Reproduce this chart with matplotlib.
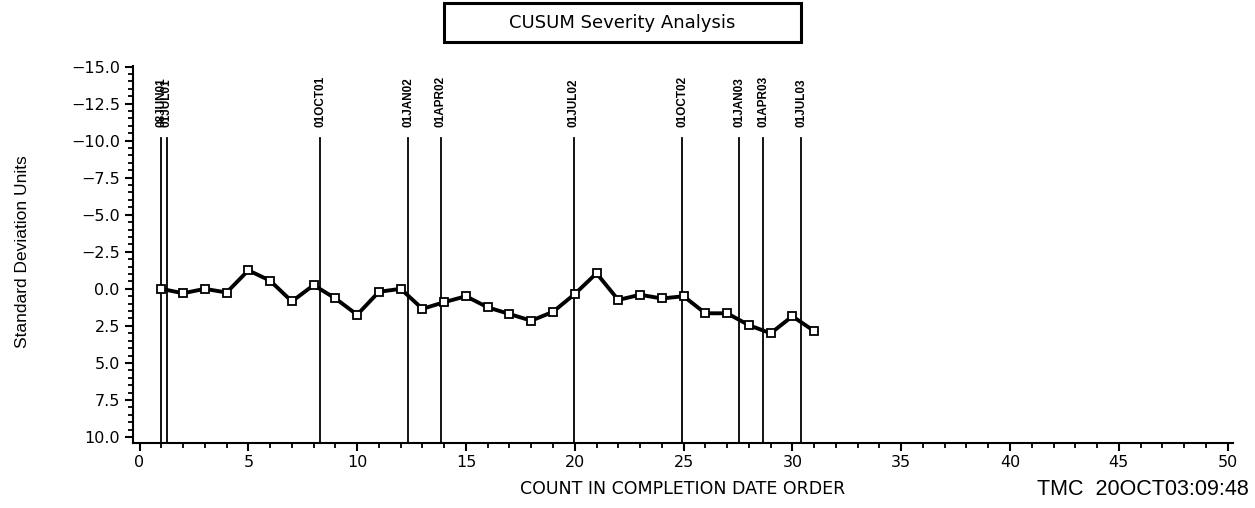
import matplotlib
matplotlib.use("Agg")
import matplotlib.pyplot as plt
from matplotlib.patches import Rectangle
from matplotlib.ticker import MultipleLocator

# CUSUM values by completion order
counts = list(range(1, 32))
cusum = [0.0, 0.3, 0.0, 0.25, -1.25, -0.55, 0.85, -0.25, 0.65, 1.75,
         0.2, 0.0, 1.35, 0.9, 0.5, 1.25, 1.7, 2.15, 1.55, 0.35,
         -1.05, 0.75, 0.4, 0.65, 0.5, 1.65, 1.65, 2.45, 3.0, 1.85, 2.85]

# date reference lines
ref_pos = [1.0, 1.25, 8.3, 12.35, 13.85, 19.95, 24.95, 27.55, 28.65, 30.4]
ref_labels = ["08JUN01", "01JUL01", "01OCT01", "01JAN02", "01APR02",
              "01JUL02", "01OCT02", "01JAN03", "01APR03", "01JUL03"]

fig = plt.figure(figsize=(12.55, 5.08), dpi=100)
ax = fig.add_axes([0.106, 0.128, 0.8765, 0.744])

for xp, lab in zip(ref_pos, ref_labels):
    ax.plot([xp, xp], [10.4, -10.2], color="black", lw=1.3, zorder=1)
    ax.text(xp, -10.95, lab, rotation=90, ha="center", va="bottom",
            fontsize=8.5, fontweight="bold", family="Liberation Sans")

ax.plot(counts, cusum, color="black", lw=2.8, marker="s", ms=5.5,
        mfc="white", mec="black", mew=1.3, zorder=3)

ax.set_xlim(-0.3, 50.25)
ax.set_ylim(10.4, -15.1)
ax.xaxis.set_major_locator(MultipleLocator(5))
ax.xaxis.set_minor_locator(MultipleLocator(1))
ax.yaxis.set_minor_locator(MultipleLocator(0.5))
ax.set_yticks([-15, -12.5, -10, -7.5, -5, -2.5, 0, 2.5, 5, 7.5, 10])
ax.yaxis.set_major_formatter(plt.FuncFormatter(lambda v, p: f"{v:.1f}".replace("-", "\u2212")))

for side in ["top", "right"]:
    ax.spines[side].set_visible(False)
ax.spines["left"].set_linewidth(1.5)
ax.spines["bottom"].set_linewidth(1.5)
ax.spines["left"].set_bounds(-15.05, 10.4)

ax.tick_params(which="major", length=6, width=1.5, labelsize=11.5)
ax.tick_params(which="minor", length=3.5, width=1.3)
ax.tick_params(axis="x", pad=3)

ax.set_xlabel("COUNT IN COMPLETION DATE ORDER", fontsize=12.5)
ax.xaxis.set_label_coords(0.5, -0.098)
fig.text(0.018, 0.505, "Standard Deviation Units", rotation=90, ha="center",
         va="center", fontsize=12.5, family="Liberation Sans")

# boxed title
fig.patches.append(Rectangle((0.3538, 0.917), 0.2845, 0.0768, transform=fig.transFigure,
                             fc="white", ec="black", lw=2.2))
fig.text(0.4955, 0.955, "CUSUM Severity Analysis", ha="center", va="center",
         fontsize=13)
fig.text(0.995, 0.037, "TMC  20OCT03:09:48", ha="right", va="center",
         fontsize=15.5, family="Liberation Sans")

fig.savefig("out.png", dpi=100)
